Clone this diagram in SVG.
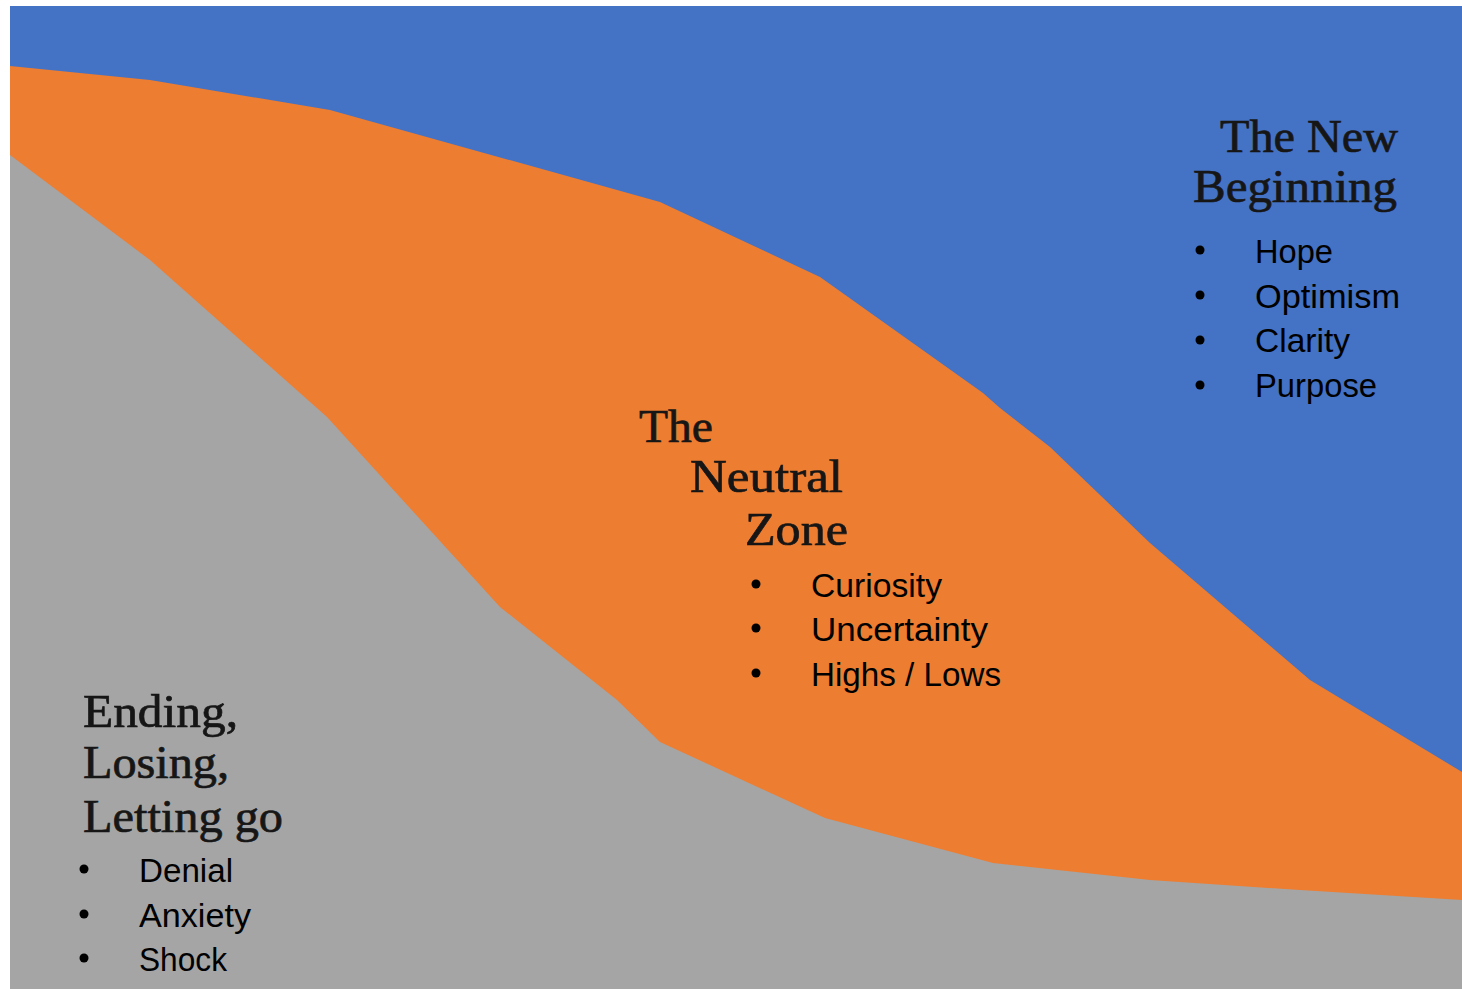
<svg xmlns="http://www.w3.org/2000/svg" width="1462" height="989" viewBox="0 0 1462 989">
<style>
.h{font-family:"Liberation Serif","Times New Roman",serif;font-size:47px;fill:#161616;stroke:#161616;stroke-width:0.7px;}
.b{font-family:"Liberation Sans",Arial,sans-serif;font-size:33px;fill:#000;}
.dot{fill:#000;}
</style>
<rect x="0" y="0" width="1462" height="989" fill="#ffffff"/>
<g id="bands">
<rect id="blue" x="10" y="6" width="1452" height="983" fill="#4472C4"/>
<polygon id="orange" fill="#ED7D31" points="10,66 150,80 330,110 660,202 820,277 983,393 1000,408 1050,447 1150,543 1310,680 1462,772 1462,989 10,989"/>
<polygon id="gray" fill="#A5A5A5" points="10,155 150,260 327,417 500,607 617,700 660,742 825,818 993,863 1150,880 1300,890 1462,900 1462,989 10,989"/>
</g>
<g id="new-beginning">
<text class="h" x="1398" y="152" text-anchor="end" textLength="178" lengthAdjust="spacingAndGlyphs">The New</text>
<text class="h" x="1397" y="202" text-anchor="end" textLength="204" lengthAdjust="spacingAndGlyphs">Beginning</text>
<circle class="dot" cx="1200" cy="250" r="4.5"/>
<circle class="dot" cx="1200" cy="295" r="4.5"/>
<circle class="dot" cx="1200" cy="340" r="4.5"/>
<circle class="dot" cx="1200" cy="385" r="4.5"/>
<text class="b" x="1255" y="263" textLength="78" lengthAdjust="spacingAndGlyphs">Hope</text>
<text class="b" x="1255" y="308" textLength="145" lengthAdjust="spacingAndGlyphs">Optimism</text>
<text class="b" x="1255" y="352" textLength="95" lengthAdjust="spacingAndGlyphs">Clarity</text>
<text class="b" x="1255" y="397" textLength="122" lengthAdjust="spacingAndGlyphs">Purpose</text>
</g>
<g id="neutral-zone">
<text class="h" x="639" y="442" textLength="74" lengthAdjust="spacingAndGlyphs">The</text>
<text class="h" x="690" y="492" textLength="153" lengthAdjust="spacingAndGlyphs">Neutral</text>
<text class="h" x="745" y="545" textLength="103" lengthAdjust="spacingAndGlyphs">Zone</text>
<circle class="dot" cx="756" cy="584" r="4.5"/>
<circle class="dot" cx="756" cy="628" r="4.5"/>
<circle class="dot" cx="756" cy="673" r="4.5"/>
<text class="b" x="811" y="597" textLength="131" lengthAdjust="spacingAndGlyphs">Curiosity</text>
<text class="b" x="811" y="641" textLength="177" lengthAdjust="spacingAndGlyphs">Uncertainty</text>
<text class="b" x="811" y="686" textLength="190" lengthAdjust="spacingAndGlyphs">Highs / Lows</text>
</g>
<g id="ending">
<text class="h" x="83" y="727" textLength="155" lengthAdjust="spacingAndGlyphs">Ending,</text>
<text class="h" x="83" y="778" textLength="146" lengthAdjust="spacingAndGlyphs">Losing,</text>
<text class="h" x="83" y="832" textLength="200" lengthAdjust="spacingAndGlyphs">Letting go</text>
<circle class="dot" cx="84" cy="869" r="4.5"/>
<circle class="dot" cx="84" cy="914" r="4.5"/>
<circle class="dot" cx="84" cy="958" r="4.5"/>
<text class="b" x="139" y="882" textLength="94" lengthAdjust="spacingAndGlyphs">Denial</text>
<text class="b" x="139" y="927" textLength="112" lengthAdjust="spacingAndGlyphs">Anxiety</text>
<text class="b" x="139" y="971" textLength="88" lengthAdjust="spacingAndGlyphs">Shock</text>
</g>
<g id="connectors"/>
</svg>
